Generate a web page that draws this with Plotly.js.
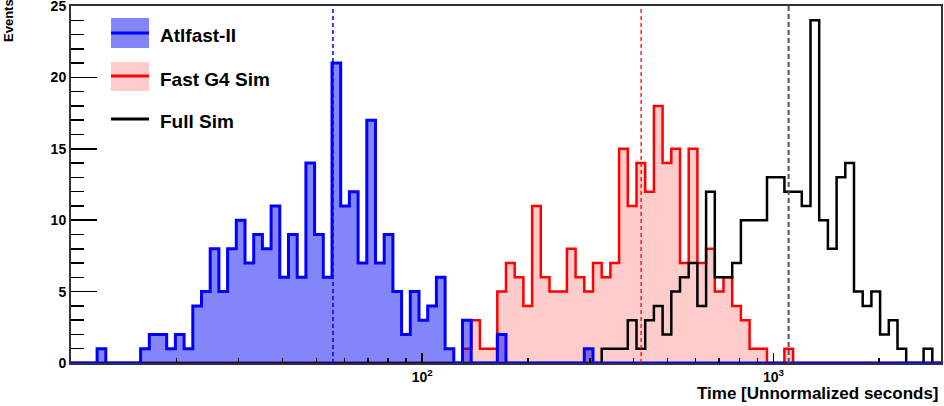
<!DOCTYPE html>
<html>
<head>
<meta charset="utf-8">
<script src="https://cdn.plot.ly/plotly-3.0.1.min.js"></script>
<style>
  html, body { margin: 0; padding: 0; background: #ffffff; }
  #chart { width: 944px; height: 406px; }
</style>
</head>
<body>
<div id="chart"></div>
<script>
// Histogram binning (log-uniform bins, as in the original ROOT plot)
const nBins = 100;
const xLow = 10;
const xHigh = 3000;

// Series names
const seriesNames = ["Atlfast-II", "Fast G4 Sim", "Full Sim"];

// Bin contents (events per bin)
const atlfastCounts = [
  0,0,0,1,0,0,0,0,1,2,
  2,1,2,1,4,5,8,5,8,10,
  7,9,8,11,6,9,6,14,9,6,
  21,11,12,7,17,7,9,5,2,5,
  3,4,6,1,0,3,0,0,0,2,
  0,0,0,0,0,0,0,0,0,1,
  0,0,0,0,0,0,0,0,0,0,
  0,0,0,0,0,0,0,0,0,0,
  0,0,0,0,0,0,0,0,0,0,
  0,0,0,0,0,0,0,0,0,0
];
const fastG4Counts = [
  0,0,0,0,0,0,0,0,0,0,
  0,0,0,0,0,0,0,0,0,0,
  0,0,0,0,0,0,0,0,0,0,
  0,0,0,0,0,0,0,0,0,0,
  0,0,0,0,0,1,3,1,1,5,
  7,6,4,11,6,5,5,8,6,5,
  7,6,7,15,11,14,12,18,14,15,
  7,15,7,8,5,6,4,3,1,1,
  0,0,1,0,0,0,0,0,0,0,
  0,0,0,0,0,0,0,0,0,0
];
const fullSimCounts = [
  0,0,0,0,0,0,0,0,0,0,
  0,0,0,0,0,0,0,0,0,0,
  0,0,0,0,0,0,0,0,0,0,
  0,0,0,0,0,0,0,0,0,0,
  0,0,0,0,0,0,0,0,0,0,
  0,0,0,0,0,0,0,0,0,0,
  0,1,1,1,3,1,3,4,2,5,
  6,7,4,12,6,6,7,10,10,10,
  13,13,12,12,11,24,10,8,13,14,
  5,4,5,2,3,1,0,0,1,0
];

// Mean times (dashed vertical markers)
const meanTimes = [55.7, 420, 1105];

// Axis ticks
const xMajorTicks = [100, 1000];
const xMajorLabels = ["10<sup>2</sup>", "10<sup>3</sup>"];
const xMinorTicks = [20,30,40,50,60,70,80,90,200,300,400,500,600,700,800,900,2000];
const yTicks = [0, 5, 10, 15, 20, 25];

// ---- build bin edges
const edges = [];
for (let i = 0; i <= nBins; i++) edges.push(xLow * Math.pow(xHigh / xLow, i / nBins));

function stepY(counts) { return counts.concat([counts[counts.length - 1]]); }

const FONT = "Liberation Sans, Arial, Helvetica, sans-serif";

const traces = [
  {
    x: edges, y: stepY(fastG4Counts), type: "scatter", mode: "lines",
    line: { shape: "hv", color: "#ff0000", width: 2.5 },
    fill: "tozeroy", fillcolor: "rgba(255,0,0,0.2)",
    name: seriesNames[1], showlegend: false, hoverinfo: "skip"
  },
  {
    x: edges, y: stepY(fullSimCounts), type: "scatter", mode: "lines",
    line: { shape: "hv", color: "#000000", width: 2.5 },
    name: seriesNames[2], showlegend: false, hoverinfo: "skip"
  },
  {
    x: edges, y: stepY(atlfastCounts), type: "scatter", mode: "lines",
    line: { shape: "hv", color: "#0000ff", width: 3 },
    fill: "tozeroy", fillcolor: "rgba(0,0,245,0.48)",
    name: seriesNames[0], showlegend: false, hoverinfo: "skip"
  },
  {
    x: [meanTimes[0], meanTimes[0]], y: [0, 25], type: "scatter", mode: "lines",
    line: { color: "#0000ff", width: 1.5, dash: "4px,3px" }, showlegend: false, hoverinfo: "skip"
  },
  {
    x: [meanTimes[1], meanTimes[1]], y: [0, 25], type: "scatter", mode: "lines",
    line: { color: "#ff0000", width: 1.3, dash: "4px,3px" }, showlegend: false, hoverinfo: "skip"
  },
  {
    x: [meanTimes[2], meanTimes[2]], y: [0, 25], type: "scatter", mode: "lines",
    line: { color: "#555555", width: 2, dash: "5px,3px" }, showlegend: false, hoverinfo: "skip"
  }
];

// paper-coordinate helpers for the hand-drawn legend
const L = 71, R = 941, T = 6, B = 363;
const px = v => (v - L) / (R - L);
const py = v => (B - v) / (B - T);

const shapes = [
  { type: "rect", xref: "paper", yref: "paper", x0: px(111), x1: px(149), y0: py(48), y1: py(18),
    fillcolor: "rgba(0,0,245,0.48)", line: { width: 0 } },
  { type: "line", xref: "paper", yref: "paper", x0: px(111), x1: px(149), y0: py(33), y1: py(33),
    line: { color: "#0000ff", width: 3 } },
  { type: "rect", xref: "paper", yref: "paper", x0: px(111), x1: px(149), y0: py(91), y1: py(62),
    fillcolor: "rgba(255,0,0,0.2)", line: { width: 0 } },
  { type: "line", xref: "paper", yref: "paper", x0: px(111), x1: px(149), y0: py(76), y1: py(76),
    line: { color: "#ff0000", width: 3 } },
  { type: "line", xref: "paper", yref: "paper", x0: px(111), x1: px(149), y0: py(119), y1: py(119),
    line: { color: "#000000", width: 3 } }
];

const legendFont = { family: FONT, size: 19, color: "#000", weight: "bold" };
const annotations = [
  { xref: "paper", yref: "paper", x: px(158), y: py(35), xanchor: "left", yanchor: "middle",
    text: seriesNames[0], showarrow: false, font: legendFont },
  { xref: "paper", yref: "paper", x: px(158), y: py(79), xanchor: "left", yanchor: "middle",
    text: seriesNames[1], showarrow: false, font: legendFont },
  { xref: "paper", yref: "paper", x: px(158), y: py(122), xanchor: "left", yanchor: "middle",
    text: seriesNames[2], showarrow: false, font: legendFont },
  { xref: "paper", yref: "paper", x: 1.0, y: py(393), xanchor: "right", yanchor: "middle",
    text: "Time [Unnormalized seconds]", showarrow: false,
    font: { family: FONT, size: 17, color: "#000", weight: "bold" } },
  { xref: "paper", yref: "paper", x: px(9), y: py(21), xanchor: "center", yanchor: "middle",
    text: "Events", textangle: -90, showarrow: false,
    font: { family: FONT, size: 13, color: "#000", weight: "bold" } }
];

const layout = {
  width: 944, height: 406,
  margin: { l: L, r: 944 - R, t: T, b: 406 - B, pad: 0 },
  paper_bgcolor: "#ffffff", plot_bgcolor: "#ffffff",
  showlegend: false,
  xaxis: {
    type: "log", range: [Math.log10(xLow), Math.log10(xHigh)],
    tickmode: "array", tickvals: xMajorTicks, ticktext: xMajorLabels,
    ticks: "inside", ticklen: 10, tickwidth: 1.5, tickcolor: "#000",
    minor: { tickmode: "array", tickvals: xMinorTicks, ticks: "inside", ticklen: 5, tickwidth: 1.5, tickcolor: "#000", showgrid: false },
    showgrid: false, zeroline: false,
    showline: true, linecolor: "#333", linewidth: 2, mirror: true,
    ticklabeloverflow: "allow",
    tickfont: { family: FONT, size: 14, color: "#000", weight: "bold" }
  },
  yaxis: {
    range: [0, 25], tickmode: "array", tickvals: yTicks,
    ticks: "inside", ticklen: 26, tickwidth: 1.5, tickcolor: "#000",
    minor: { dtick: 1, ticks: "inside", ticklen: 13, tickwidth: 1.5, tickcolor: "#000", showgrid: false },
    showgrid: false, zeroline: false,
    showline: true, linecolor: "#333", linewidth: 2, mirror: true,
    ticklabeloverflow: "allow",
    tickfont: { family: FONT, size: 14, color: "#000", weight: "bold" }
  },
  shapes: shapes,
  annotations: annotations
};

Plotly.newPlot("chart", traces, layout, { staticPlot: true, displayModeBar: false });
</script>
</body>
</html>
